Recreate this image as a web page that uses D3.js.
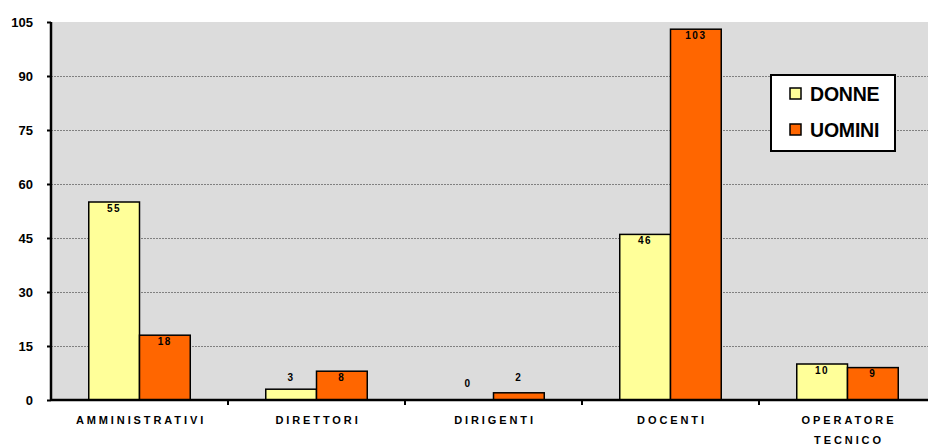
<!DOCTYPE html>
<html>
<head>
<meta charset="utf-8">
<script src="https://cdn.jsdelivr.net/npm/d3@7"></script>
<style>
  body { margin: 0; background: #fff; }
  text { font-family: "Liberation Sans", Arial, sans-serif; font-weight: bold; }
</style>
</head>
<body>
<script>
const categories = ['AMMINISTRATIVI', 'DIRETTORI', 'DIRIGENTI', 'DOCENTI', 'OPERATORE TECNICO']
const series = ['DONNE', 'UOMINI']
const donne = [55, 3, 0, 46, 10]
const uomini = [18, 8, 2, 103, 9]
const yTicks = [0, 15, 30, 45, 60, 75, 90, 105]
const colors = ['#FFFF99', '#FF6600']

const WIDTH = 928
const HEIGHT = 445
const plotLeft = 51
const plotRight = 936
const plotTop = 22
const plotBottom = 400

const svg = d3.select(document.body).append('svg')
  .attr('width', WIDTH)
  .attr('height', HEIGHT)

const x = d3.scaleBand().domain(categories).range([plotLeft, plotRight])
const xs = d3.scaleBand().domain(series).range([0, 101.5])
const y = d3.scaleLinear().domain([0, 105]).range([plotBottom, plotTop])

// plot area
svg.append('rect')
  .attr('x', plotLeft).attr('y', plotTop)
  .attr('width', plotRight - plotLeft).attr('height', plotBottom - plotTop)
  .attr('fill', '#DCDCDC')

// grid
svg.append('g').selectAll('line')
  .data(yTicks.filter(d => d > 0 && d < 105))
  .enter().append('line')
  .attr('x1', plotLeft).attr('x2', plotRight)
  .attr('y1', d => y(d) + 0.5).attr('y2', d => y(d) + 0.5)
  .attr('stroke', '#808080')
  .attr('stroke-width', 1)
  .attr('stroke-dasharray', '2,1')

// bars
const rows = categories.map((c, i) => ({ c, vals: [donne[i], uomini[i]] }))
const groups = svg.append('g').selectAll('g')
  .data(rows)
  .enter().append('g')
  .attr('transform', d => `translate(${x(d.c) + x.bandwidth() / 2 - xs.range()[1] / 2},0)`)

groups.selectAll('rect')
  .data(d => d.vals.map((v, j) => ({ s: series[j], v, j })))
  .enter().append('rect')
  .filter(d => d.v > 0)
  .attr('x', d => xs(d.s))
  .attr('y', d => y(d.v))
  .attr('width', xs.bandwidth())
  .attr('height', d => y(0) - y(d.v))
  .attr('fill', d => colors[d.j])
  .attr('stroke', '#000')
  .attr('stroke-width', 1.5)

groups.selectAll('text')
  .data(d => d.vals.map((v, j) => ({ s: series[j], v, j })))
  .enter().append('text')
  .attr('x', d => xs(d.s) + xs.bandwidth() / 2)
  .attr('y', d => d.v === 0 ? y(0) - 17 : Math.min(y(d.v) + 6, y(0) - 23))
  .attr('dy', '0.35em')
  .attr('text-anchor', 'middle')
  .attr('font-size', 10)
  .attr('letter-spacing', 1.5)
  .attr('fill', '#000')
  .text(d => d.v)

// y axis
const yAxis = svg.append('g')
  .attr('transform', `translate(${plotLeft},0)`)
  .call(d3.axisLeft(y).tickValues(yTicks).tickSize(4).tickPadding(14))
yAxis.select('.domain').attr('stroke-width', 2.5).attr('d', `M0,${plotTop}V${plotBottom}`)
yAxis.selectAll('.tick line').attr('stroke-width', 2)
yAxis.attr('font-family', null)
yAxis.selectAll('text').attr('fill', '#000').style('font-size', '13px')

// x axis
const xAxis = svg.append('g')
  .attr('transform', `translate(0,${plotBottom})`)
xAxis.append('line')
  .attr('x1', plotLeft).attr('x2', plotRight)
  .attr('stroke', '#000').attr('stroke-width', 2.5)
xAxis.selectAll('.xt')
  .data(categories.slice(1))
  .enter().append('line')
  .attr('x1', d => x(d)).attr('x2', d => x(d))
  .attr('y1', 0).attr('y2', 5)
  .attr('stroke', '#000').attr('stroke-width', 2)

xAxis.selectAll('.xl')
  .data(categories)
  .enter().append('text')
  .attr('text-anchor', 'middle')
  .attr('font-size', 11)
  .attr('letter-spacing', 2.9)
  .each(function (d) {
    const words = d.split(' ')
    const t = d3.select(this)
    words.forEach((w, i) => {
      t.append('tspan')
        .attr('x', x(d) + x.bandwidth() / 2 + 1.5)
        .attr('y', 24 + i * 20)
        .text(w)
    })
  })

// legend
const legend = svg.append('g')
legend.append('rect')
  .attr('x', 771).attr('y', 75)
  .attr('width', 124).attr('height', 76)
  .attr('fill', '#fff')
  .attr('stroke', '#000').attr('stroke-width', 2)
const items = legend.selectAll('g')
  .data(series)
  .enter().append('g')
  .attr('transform', (d, i) => `translate(790,${88 + i * 36})`)
items.append('rect')
  .attr('width', 11).attr('height', 11)
  .attr('fill', (d, i) => colors[i])
  .attr('stroke', '#000').attr('stroke-width', 1.5)
items.append('text')
  .attr('x', 20).attr('y', 6)
  .attr('dy', '0.36em')
  .attr('font-size', 19.5)
  .attr('letter-spacing', -0.2)
  .text(d => d)
</script>
</body>
</html>
